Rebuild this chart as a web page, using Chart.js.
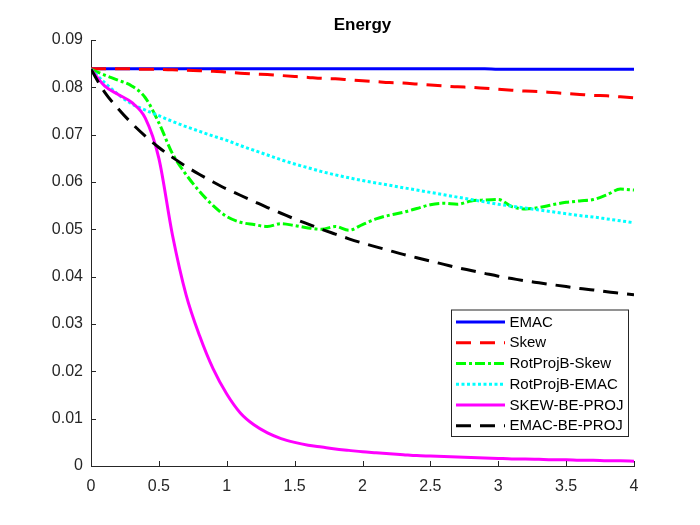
<!DOCTYPE html>
<html>
<head>
<meta charset="utf-8">
<script src="https://cdn.jsdelivr.net/npm/chart.js@4/dist/chart.umd.min.js"></script>
<style>
html,body{margin:0;padding:0;background:#fff;}
#wrap{width:700px;height:525px;}
</style>
</head>
<body>
<div id="wrap"><canvas id="c" width="700" height="525"></canvas></div>
<script>
const chartTitle = 'Energy';
const xValues = [0,0.1,0.2,0.3,0.4,0.5,0.6,0.7,0.8,0.9,1.0,1.1,1.2,1.3,1.4,1.5,1.6,1.7,1.8,1.9,2.0,2.1,2.2,2.3,2.4,2.5,2.6,2.7,2.8,2.9,3.0,3.1,3.2,3.3,3.4,3.5,3.6,3.7,3.8,3.9,4.0];
const xTickValues = [0,0.5,1,1.5,2,2.5,3,3.5,4];
const xTickLabels = ['0','0.5','1','1.5','2','2.5','3','3.5','4'];
const yTickValues = [0,0.01,0.02,0.03,0.04,0.05,0.06,0.07,0.08,0.09];
const yTickLabels = ['0','0.01','0.02','0.03','0.04','0.05','0.06','0.07','0.08','0.09'];
const seriesNames = ['EMAC','Skew','RotProjB-Skew','RotProjB-EMAC','SKEW-BE-PROJ','EMAC-BE-PROJ'];

const emac = [0.0839,0.0839,0.0839,0.0839,0.0839,0.0839,0.0839,0.0839,0.0839,0.0839,0.0839,0.0839,0.0839,0.0839,0.0839,0.0839,0.0839,0.0839,0.0839,0.0839,0.0839,0.0839,0.0839,0.0839,0.0839,0.0839,0.0839,0.0839,0.0839,0.0839,0.0838,0.0838,0.0838,0.0838,0.0838,0.0838,0.0838,0.0838,0.0838,0.0838,0.0838];
const skew = [0.0839,0.0839,0.0839,0.0839,0.0838,0.0838,0.0837,0.0836,0.0835,0.0834,0.0832,0.0830,0.0828,0.0827,0.0825,0.0823,0.0821,0.0819,0.0818,0.0816,0.0814,0.0812,0.0810,0.0809,0.0807,0.0805,0.0803,0.0801,0.0800,0.0798,0.0796,0.0794,0.0792,0.0791,0.0789,0.0787,0.0785,0.0783,0.0782,0.0780,0.0778];
const rotSkew = [0.0838,0.0826,0.0815,0.0803,0.0778,0.0725,0.0660,0.0616,0.0580,0.0550,0.0527,0.0515,0.0510,0.0506,0.0512,0.0508,0.0503,0.0500,0.0506,0.0498,0.0510,0.0522,0.0530,0.0536,0.0544,0.0552,0.0555,0.0553,0.0560,0.0562,0.0563,0.0548,0.0543,0.0546,0.0552,0.0557,0.0560,0.0563,0.0573,0.0585,0.0583];
const rotEmac = [0.0838,0.0810,0.0785,0.0765,0.0752,0.0740,0.0728,0.0717,0.0707,0.0697,0.0688,0.0677,0.0667,0.0657,0.0647,0.0638,0.0630,0.0622,0.0615,0.0609,0.0603,0.0598,0.0593,0.0588,0.0583,0.0578,0.0573,0.0568,0.0563,0.0558,0.0553,0.0549,0.0545,0.0541,0.0537,0.0533,0.0529,0.0526,0.0522,0.0518,0.0514];
const skewBeProj = [0.0838,0.0803,0.0785,0.0768,0.0735,0.0650,0.0488,0.0362,0.0275,0.0205,0.0152,0.0112,0.0087,0.0070,0.0058,0.0050,0.0044,0.0040,0.0036,0.0033,0.0030,0.0028,0.0026,0.0024,0.0022,0.0021,0.0020,0.0019,0.0018,0.0017,0.0016,0.0015,0.0015,0.0014,0.0013,0.0013,0.0012,0.0012,0.0011,0.0011,0.0010];
const emacBeProj = [0.0838,0.0790,0.0755,0.0724,0.0697,0.0673,0.0652,0.0633,0.0616,0.0600,0.0585,0.0572,0.0559,0.0546,0.0534,0.0522,0.0511,0.0500,0.0490,0.0480,0.0471,0.0463,0.0455,0.0447,0.0440,0.0433,0.0426,0.0419,0.0413,0.0407,0.0401,0.0396,0.0391,0.0387,0.0383,0.0379,0.0375,0.0372,0.0368,0.0365,0.0362];

const seriesValues = [emac, skew, rotSkew, rotEmac, skewBeProj, emacBeProj];
const seriesColors = ['#0000FF','#FF0000','#00FF00','#00FFFF','#FF00FF','#000000'];
const seriesDashes = [[], [15,9], [10,3,3,3], [3,2.5], [], [15,9]];

const axisColor = '#262626';
const FONT = '"Liberation Sans", Arial, sans-serif';

const datasets = seriesValues.map((vals, i) => ({
  label: seriesNames[i],
  data: vals.map((v, j) => ({x: xValues[j], y: v})),
  borderColor: seriesColors[i],
  backgroundColor: seriesColors[i],
  borderWidth: 3,
  borderDash: seriesDashes[i],
  pointRadius: 0,
  fill: false,
  cubicInterpolationMode: 'monotone',
  order: seriesValues.length - i
}));

const decor = {
  id: 'decor',
  afterDraw(chart) {
    const ctx = chart.ctx;
    const xs = chart.scales.x, ys = chart.scales.y;
    const area = chart.chartArea;
    ctx.save();
    ctx.strokeStyle = axisColor;
    ctx.lineWidth = 1;
    ctx.beginPath();
    xTickValues.forEach(v => {
      const px = Math.round(xs.getPixelForValue(v)) + 0.5;
      ctx.moveTo(px, area.bottom);
      ctx.lineTo(px, area.bottom - 5);
    });
    yTickValues.forEach(v => {
      const py = Math.round(ys.getPixelForValue(v)) + 0.5;
      ctx.moveTo(area.left, py);
      ctx.lineTo(area.left + 5, py);
    });
    ctx.stroke();
    ctx.fillStyle = '#000';
    ctx.font = 'bold 17px ' + FONT;
    ctx.textAlign = 'center';
    ctx.textBaseline = 'alphabetic';
    ctx.fillText(chartTitle, (area.left + area.right) / 2, 30);
    const lx = 451, ly = 309.5, lw = 177, lh = 126.5;
    ctx.fillStyle = '#fff';
    ctx.fillRect(lx, ly, lw, lh);
    ctx.strokeStyle = axisColor;
    ctx.lineWidth = 1;
    ctx.strokeRect(lx + 0.5, ly + 0.5, lw, lh);
    ctx.font = '15px ' + FONT;
    ctx.textAlign = 'left';
    ctx.textBaseline = 'middle';
    chart.data.datasets.forEach((ds, i) => {
      const y = 322 + i * 20.75;
      ctx.save();
      ctx.strokeStyle = ds.borderColor;
      ctx.lineWidth = ds.borderWidth;
      ctx.setLineDash(ds.borderDash);
      ctx.beginPath();
      ctx.moveTo(456, y);
      ctx.lineTo(505, y);
      ctx.stroke();
      ctx.restore();
      ctx.fillStyle = '#000';
      ctx.fillText(ds.label, 509.5, y + 0.5);
    });
    ctx.restore();
  }
};

new Chart(document.getElementById('c'), {
  type: 'line',
  data: { datasets },
  options: {
    responsive: false,
    animation: false,
    devicePixelRatio: 1,
    layout: { padding: { top: 40, right: 66, left: 0, bottom: 0 } },
    plugins: { legend: { display: false }, title: { display: false }, tooltip: { enabled: false } },
    scales: {
      x: {
        type: 'linear', min: 0, max: 4,
        afterBuildTicks(s) { s.ticks = xTickValues.map(v => ({value: v})); },
        afterFit(s) { s.height = 59; },
        grid: { display: true, drawOnChartArea: false, drawTicks: false },
        border: { display: true, color: axisColor, width: 1 },
        ticks: {
          padding: 11, color: axisColor, maxRotation: 0, autoSkip: false,
          font: { family: FONT, size: 16 },
          callback: (v) => xTickLabels[xTickValues.indexOf(v)] ?? ''
        }
      },
      y: {
        type: 'linear', min: 0, max: 0.09,
        afterBuildTicks(s) { s.ticks = yTickValues.map(v => ({value: v})); },
        afterFit(s) { s.width = 91; },
        grid: { display: true, drawOnChartArea: false, drawTicks: false },
        border: { display: true, color: axisColor, width: 1 },
        ticks: {
          padding: 8, color: axisColor, autoSkip: false,
          font: { family: FONT, size: 16 },
          callback: (v) => { const k = yTickValues.findIndex(t => Math.abs(t - v) < 1e-9); return k >= 0 ? yTickLabels[k] : ''; }
        }
      }
    }
  },
  plugins: [decor]
});
</script>
</body>
</html>
